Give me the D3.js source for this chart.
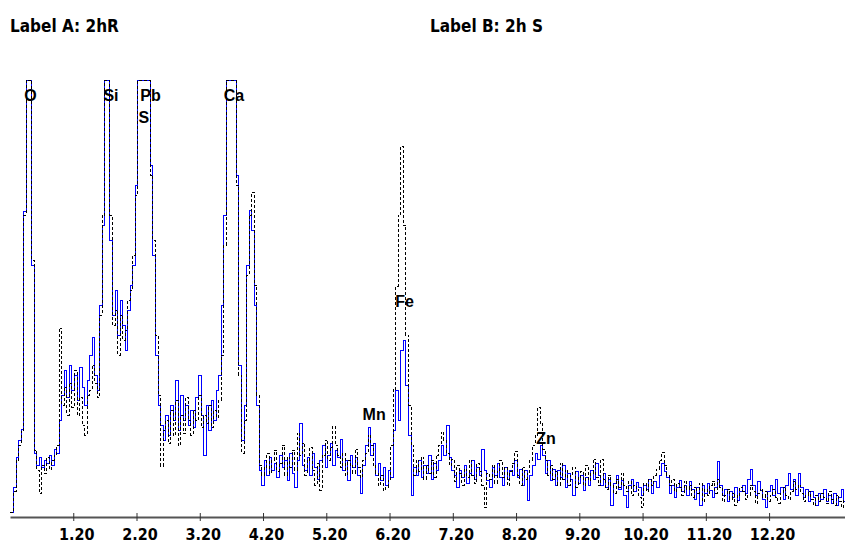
<!DOCTYPE html>
<html>
<head>
<meta charset="utf-8">
<script src="https://cdn.jsdelivr.net/npm/d3@7"></script>
<style>
  html, body { margin: 0; padding: 0; background: #fff; }
  svg { display: block; }
</style>
</head>
<body>
<svg id="chart" width="845" height="547"></svg>
<script>
// EDS spectrum: two acquisitions overlaid, 0.04 keV channels from 0.20 keV
const energyStart = 0.2;
const energyStep = 0.04;

// Tick positions along the energy axis (keV)
const tickValues = [1.2, 2.2, 3.2, 4.2, 5.2, 6.2, 7.2, 8.2, 9.2, 10.2, 11.2, 12.2];

// Counts per channel, series A (solid blue)
const countsA = [
  3, 3, 28, 58, 75, 86, 304, 460, 460, 250,
  62, 50, 58, 48, 55, 52, 60, 50, 66, 62,
  95, 120, 145, 118, 150, 125, 140, 115, 148, 128,
  110, 135, 160, 178, 140, 125, 210, 290, 460, 460,
  275, 200, 225, 180, 215, 190, 165, 205, 230, 250,
  330, 460, 460, 460, 460, 460, 350, 260, 160, 110,
  90, 75, 100, 80, 110, 95, 135, 85, 120, 95,
  110, 90, 105, 88, 118, 140, 100, 60, 110, 85,
  115, 95, 125, 140, 210, 300, 460, 460, 460, 460,
  340, 150, 75, 110, 250, 305, 285, 210, 110, 45,
  30, 55, 40, 58, 45, 52, 38, 60, 48, 55,
  35, 62, 42, 28, 55, 92, 50, 45, 58, 40,
  62, 48, 36, 55, 70, 48, 60, 72, 50, 65,
  58, 76, 45, 55, 35, 60, 48, 58, 40, 22,
  50, 70, 88, 60, 72, 40, 52, 35, 48, 30,
  45, 38, 85, 125, 95, 165, 175, 130, 80, 20,
  48, 40, 55, 38, 50, 42, 60, 36, 52, 45,
  55, 70, 60, 90, 58, 45, 40, 28, 45, 38,
  50, 32, 42, 55, 36, 48, 40, 66, 45, 35,
  28, 48, 40, 52, 38, 30, 48, 36, 45, 40,
  55, 38, 46, 30, 45, 15, 40, 50, 62, 56,
  70, 60, 42, 55, 35, 46, 30, 45, 38, 50,
  28, 42, 36, 20, 44, 32, 40, 25, 38, 30,
  45, 36, 52, 40, 30, 42, 28, 36, 10, 32,
  40, 26, 35, 20, 8, 30, 36, 24, 33, 28,
  20, 30, 26, 36, 22, 34, 28, 40, 52, 44,
  38, 22, 30, 18, 28, 35, 24, 30, 20, 34,
  26, 16, 28, 10, 30, 22, 32, 25, 18, 28,
  54, 30, 20, 26, 14, 24, 18, 28, 15, 24,
  30, 22, 36, 46, 30, 20, 34, 25, 16, 8,
  24, 30, 20, 36, 22, 28, 16, 30, 42, 26,
  36, 20, 42, 28, 18, 26, 14, 24, 18, 10,
  22, 16, 26, 14, 20, 12, 22, 10, 18, 26,
  14
];

// Counts per channel, series B (dashed black)
const countsB = [
  3, 3, 24, 55, 70, 84, 300, 460, 460, 255,
  65, 45, 22, 50, 42, 58, 46, 55, 60, 70,
  187, 110, 128, 100, 132, 108, 145, 100, 118, 90,
  80, 120, 125, 150, 132, 118, 200, 300, 460, 460,
  300, 190, 205, 160, 200, 175, 185, 215, 225, 260,
  320, 460, 460, 460, 460, 460, 340, 275, 180, 120,
  49, 85, 95, 72, 105, 80, 115, 70, 100, 82,
  118, 95, 80, 105, 95, 120, 88, 100, 92, 110,
  88, 105, 98, 115, 160, 270, 440, 460, 460, 460,
  330, 140, 62, 95, 240, 300, 323, 230, 120, 50,
  40, 48, 62, 42, 55, 65, 44, 52, 70, 40,
  58, 48, 65, 45, 82, 60, 72, 40, 55, 68,
  45, 30, 52, 25, 60, 75, 55, 68, 89, 70,
  60, 48, 62, 40, 55, 50, 42, 66, 48, 38,
  55, 62, 80, 70, 50, 42, 30, 40, 25, 28,
  35, 70, 126, 229, 300, 369, 290, 180, 110, 70,
  40, 55, 44, 58, 36, 50, 42, 55, 38, 60,
  70, 83, 75, 62, 50, 56, 34, 50, 42, 30,
  46, 38, 55, 40, 32, 52, 44, 30, 8, 42,
  36, 50, 32, 44, 55, 38, 48, 30, 44, 52,
  64, 40, 30, 48, 36, 42, 55, 70, 80, 108,
  92, 66, 55, 40, 50, 36, 44, 30, 52, 36,
  45, 30, 40, 48, 28, 38, 44, 30, 50, 35,
  42, 56, 38, 30, 56, 36, 26, 40, 30, 22,
  36, 28, 42, 30, 24, 34, 20, 30, 26, 18,
  8, 32, 24, 36, 30, 40, 46, 55, 63, 50,
  40, 30, 36, 24, 32, 28, 20, 34, 26, 30,
  18, 28, 22, 32, 14, 26, 20, 30, 34, 22,
  36, 28, 14, 20, 26, 16, 22, 10, 20, 28,
  24, 16, 20, 30, 24, 12, 22, 26, 18, 24,
  14, 20, 26, 18, 12, 22, 28, 20, 16, 24,
  34, 26, 30, 22, 14, 20, 24, 16, 10, 20,
  14, 22, 18, 12, 24, 16, 10, 20, 14, 8,
  16
];

// Element markers: symbol and line energy (keV)
const elementNames = ["O", "Si", "Pb", "S", "Ca", "Mn", "Fe", "Zn"];
const elementEnergies = [0.52, 1.74, 2.34, 2.31, 3.69, 5.90, 6.40, 8.63];
const elementCounts = [440, 440, 440, 415, 440, 113, 226, 90];

const headerLabels = ["Label A: 2hR", "Label B: 2h S"];

const svg = d3.select("#chart");
const W = 845;

const x = d3.scaleLinear()
  .domain([0.2, 13.4])
  .range([10, 845]);

const y = d3.scaleLinear()
  .domain([0, 435])
  .range([515, 80])
  .clamp(true);

const toPoints = arr => arr.map((v, i) => ({ e: energyStart + i * energyStep, v }));

const line = d3.line()
  .x(d => x(d.e))
  .y(d => y(d.v))
  .curve(d3.curveStep);

// header labels
svg.selectAll("text.hdr")
  .data(headerLabels)
  .join("text")
  .attr("class", "hdr")
  .attr("x", (d, i) => i === 0 ? 10 : 430)
  .attr("y", 32)
  .attr("font-family", "'Liberation Sans Narrow', 'DejaVu Sans Condensed', sans-serif")
  .attr("font-weight", "bold")
  .attr("font-size", 17)
  .attr("fill", "#000")
  .text(d => d);

const plot = svg.append("g");

plot.append("path")
  .datum(toPoints(countsA))
  .attr("fill", "none")
  .attr("stroke", "#0000ff")
  .attr("stroke-width", 1)
  .attr("shape-rendering", "crispEdges")
  .attr("d", line);

plot.append("path")
  .datum(toPoints(countsB))
  .attr("fill", "none")
  .attr("stroke", "#000")
  .attr("stroke-width", 1)
  .attr("stroke-dasharray", "3,2")
  .attr("shape-rendering", "crispEdges")
  .attr("d", line);

// element symbols
const elemData = elementNames.map((n, i) => ({ n, e: elementEnergies[i], c: elementCounts[i] }));
const elemOffsets = { O: [-6, 101], Si: [-4, 101], Pb: [-5, 101], S: [-5, 123], Ca: [-7, 101], Mn: [-8, 420], Fe: [-7, 307], Zn: [-7, 444] };
svg.selectAll("text.el")
  .data(elemData)
  .join("text")
  .attr("class", "el")
  .attr("x", d => x(d.e) + elemOffsets[d.n][0])
  .attr("y", d => elemOffsets[d.n][1])
  .attr("font-family", "'Liberation Sans', Arial, sans-serif")
  .attr("font-weight", "bold")
  .attr("font-size", 16)
  .attr("fill", "#000")
  .text(d => d.n);

// energy axis
const axis = d3.axisBottom(x)
  .tickValues(tickValues)
  .tickFormat(d3.format(".2f"))
  .tickSizeInner(4)
  .tickSizeOuter(0);

const gx = svg.append("g")
  .attr("transform", "translate(0,517)")
  .call(axis);

gx.select(".domain")
  .attr("stroke", "#555")
  .attr("stroke-width", 2);
gx.selectAll(".tick line")
  .attr("stroke", "#333")
  .attr("y1", -4)
  .attr("y2", 4);
gx.selectAll(".tick text")
  .attr("y", 12)
  .attr("dy", "0.71em")
  .attr("dx", 3)
  .attr("font-family", "'Liberation Sans Narrow', 'DejaVu Sans Condensed', sans-serif")
  .attr("font-weight", "bold")
  .attr("font-size", 16)
  .attr("fill", "#000");
</script>
</body>
</html>
